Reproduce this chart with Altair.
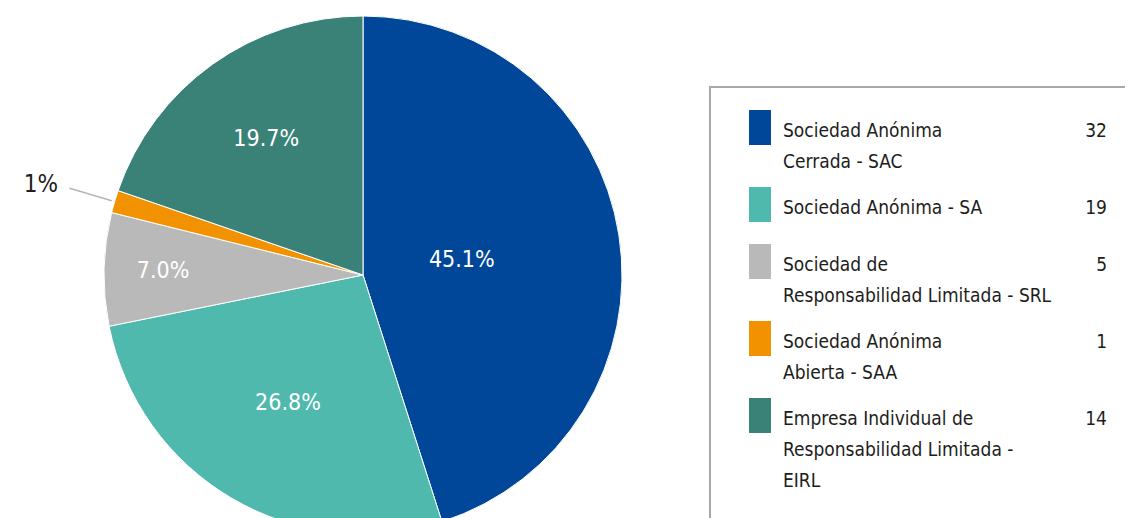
import altair as alt
import pandas as pd

# ---- data ----
codes = ["SAC", "SA", "SRL", "SAA", "EIRL"]
legend_lines = [
    ["Sociedad Anónima", "Cerrada - SAC"],
    ["Sociedad Anónima - SA"],
    ["Sociedad de", "Responsabilidad Limitada - SRL"],
    ["Sociedad Anónima", "Abierta - SAA"],
    ["Empresa Individual de", "Responsabilidad Limitada -", "EIRL"],
]
counts = [32, 19, 5, 1, 14]
pct_labels = ["45.1%", "26.8%", "7.0%", "1%", "19.7%"]
colors = ["#00479A", "#4FB9AE", "#B9B9B9", "#F39200", "#3A8277"]

FONT = "Liberation Sans Narrow, DejaVu Sans Condensed, sans-serif"
W, H = 1117, 510
CX, CY, R = 355, 267, 259

pie_df = pd.DataFrame({
    "code": codes,
    "value": counts,
    "idx": list(range(len(codes))),
    "inside": [("" if c == "SAA" else p) for c, p in zip(codes, pct_labels)],
    "outside": [(p if c == "SAA" else "") for c, p in zip(codes, pct_labels)],
})

color_scale = alt.Scale(domain=codes, range=colors)
theta = alt.Theta("value:Q", stack=True)
order = alt.Order("idx:Q", sort="ascending")

pie = alt.Chart(pie_df).mark_arc(outerRadius=R, stroke="white", strokeWidth=1).encode(
    theta=theta, order=order,
    color=alt.Color("code:N", scale=color_scale, legend=None),
    x=alt.value(CX), y=alt.value(CY),
)

# larger slices get their label nearer the centre
inside = alt.Chart(pie_df).mark_text(
    font=FONT, fontSize=23, color="white", align="center", baseline="middle"
).encode(
    theta=theta, order=order, text="inside:N",
    radius=alt.Radius("value:Q", scale=alt.Scale(type="linear", domain=[5, 32], range=[200, 100], zero=False)),
    x=alt.value(CX), y=alt.value(CY),
)

outside = alt.Chart(pie_df).mark_text(
    radius=318, font=FONT, fontSize=24, color="#1d1d1b", align="right", baseline="middle"
).encode(theta=theta, order=order, text="outside:N", x=alt.value(CX), y=alt.value(CY))

leader = alt.Chart(pie_df).transform_joinaggregate(
    total="sum(value)"
).transform_window(
    cum="sum(value)", sort=[alt.SortField("idx", order="ascending")]
).transform_filter(
    alt.datum.outside != ""
).transform_calculate(
    mid="(datum.cum - datum.value/2) / datum.total * 2 * PI",
    x1=f"{CX} + {R + 3} * sin(datum.mid)",
    y1=f"{CY} - {R + 3} * cos(datum.mid)",
    x2=f"{CX} + {R + 47} * sin(datum.mid)",
    y2=f"{CY} - {R + 47} * cos(datum.mid)",
).mark_rule(color="#b5b5b5", strokeWidth=1.5).encode(
    x=alt.X("x1:Q", scale=None), y=alt.Y("y1:Q", scale=None),
    x2="x2:Q", y2="y2:Q",
)

# ---- legend layout (computed from number of lines) ----
LINE_H = 31
tops = []
t = 102
for lines in legend_lines:
    tops.append(t)
    t += max(len(lines) * LINE_H, 42) + 15

leg_df = pd.DataFrame({
    "code": codes,
    "lines": legend_lines,
    "count": [str(c) for c in counts],
    "top": tops,
})

box = alt.Chart(alt.Data(values=[{}])).mark_rect(
    fill="transparent", stroke="#a8a8a8", strokeWidth=2
).encode(x=alt.value(702), x2=alt.value(1140), y=alt.value(79), y2=alt.value(560))

swatch = alt.Chart(leg_df).transform_calculate(bottom="datum.top + 35").mark_rect().encode(
    x=alt.value(741), x2=alt.value(763),
    y=alt.Y("top:Q", scale=None), y2="bottom:Q",
    color=alt.Color("code:N", scale=color_scale, legend=None),
)

leg_text = alt.Chart(leg_df).mark_text(
    font=FONT, fontSize=19, color="#1d1d1b", align="left", baseline="alphabetic",
    lineHeight=LINE_H, dy=27
).encode(x=alt.value(775), y=alt.Y("top:Q", scale=None), text="lines")

leg_num = alt.Chart(leg_df).mark_text(
    font=FONT, fontSize=19, color="#1d1d1b", align="right", baseline="alphabetic", dy=27
).encode(x=alt.value(1099), y=alt.Y("top:Q", scale=None), text="count:N")

chart = alt.layer(pie, inside, outside, leader, box, swatch, leg_text, leg_num).properties(
    width=W, height=H, padding=0,
    autosize=alt.AutoSizeParams(type="none"),
).resolve_scale(theta="shared").configure_view(stroke=None)

chart.save("out.html", embed_options={"renderer": "svg", "actions": False})
